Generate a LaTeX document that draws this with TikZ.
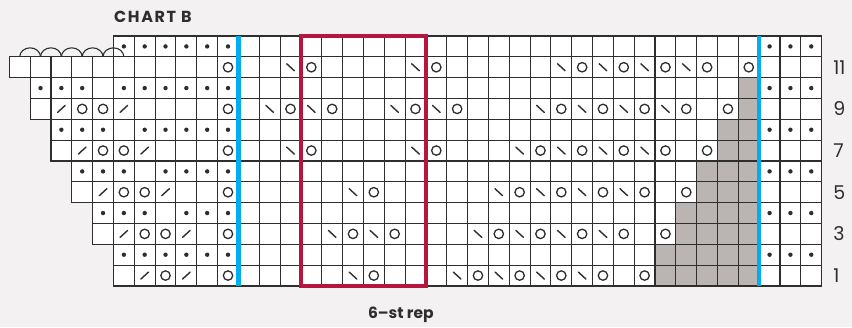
\documentclass[tikz,border=0pt]{standalone}
\usepackage{fontspec}
\setmainfont{Poppins}
\newfontfamily\titlefont[LetterSpace=10]{Poppins}
\definecolor{bg}{HTML}{F3F1F1}
\definecolor{ink}{HTML}{2E2E2E}
\definecolor{cyanline}{HTML}{00AEEF}
\definecolor{repred}{HTML}{B5163F}
\definecolor{chartgray}{HTML}{BAB5B2}
\tikzset{
  gridline/.style={draw=ink,line width=1.1pt},
  knitdot/.style={fill=ink},
  yo/.style={draw=ink,line width=1.3pt},
  decline/.style={draw=ink,line width=1.4pt,line cap=round},
  blueline/.style={draw=cyanline,line width=4.6pt},
  redbox/.style={draw=repred,line width=4.4pt},
  rownum/.style={anchor=west,inner sep=0pt,font=\fontsize{19}{19}\selectfont,text=ink},
}
\begin{document}
\begin{tikzpicture}[x=1pt,y=-1pt]
\fill[bg] (0,0) rectangle (852,327);
\useasboundingbox (0,0) rectangle (852,327);
\begin{scope}[shift={(9.3,36)},x=20.83pt,y=-20.83pt]
  % white cells
  \foreach \r/\s in {12/5,11/0,10/1,9/1,8/2,7/2,6/3,5/3,4/4,3/4,2/5,1/5}{
    \fill[white] (\s,12-\r) rectangle (39,13-\r);
  }
  % gray cells
  \foreach \r/\s in {1/31,2/31,3/32,4/32,5/33,6/33,7/34,8/34,9/35,10/35}{
    \fill[chartgray] (\s,12-\r) rectangle (36,13-\r);
  }
  % grid
  \foreach \r/\s in {12/5,11/0,10/1,9/1,8/2,7/2,6/3,5/3,4/4,3/4,2/5,1/5}{
    \foreach \c in {\s,...,38}{
      \draw[gridline] (\c,12-\r) rectangle (\c+1,13-\r);
    }
  }
  % cast-on arcs
  \foreach \k in {1,...,5}{
    \draw[ink,line width=1.1pt] (\k-0.5,1) arc[start angle=180,end angle=0,x radius=10.4pt,y radius=9pt];
  }
  % dots
  \foreach \r/\cs in {12/{5,6,7,8,9,10,36,37,38},
                      10/{1,2,3,5,6,7,8,9,10,36,37,38},
                      8/{2,3,4,6,7,8,9,10,36,37,38},
                      6/{3,4,5,7,8,9,10,36,37,38},
                      4/{4,5,6,8,9,10,36,37,38},
                      2/{5,6,7,8,9,10,36,37,38}}{
    \foreach \c in \cs{
      \fill[knitdot] (\c+0.5,12.5-\r) circle (2.2pt);
    }
  }
  % yarn overs
  \foreach \r/\cs in {11/{10,14,20,27,29,31,33,35},
                      9/{3,4,10,13,15,19,21,26,28,30,32,34},
                      7/{4,5,10,14,20,25,27,29,31,33},
                      5/{5,6,10,17,24,26,28,30,32},
                      3/{6,7,10,16,18,23,25,27,29,31},
                      1/{7,10,17,22,24,26,28,30}}{
    \foreach \c in \cs{
      \draw[yo] (\c+0.5,12.5-\r) circle (4.7pt);
    }
  }
  % k2tog (/)
  \foreach \r/\cs in {9/{2,5},7/{3,6},5/{4,7},3/{5,8},1/{6,8}}{
    \foreach \c in \cs{
      \draw[decline] ([shift={(-3.8pt,-3.5pt)}]\c+0.5,12.5-\r) -- ([shift={(3.8pt,3.5pt)}]\c+0.5,12.5-\r);
    }
  }
  % ssk (\)
  \foreach \r/\cs in {11/{13,19,26,28,30,32},
                      9/{12,14,18,20,25,27,29,31},
                      7/{13,19,24,26,28,30},
                      5/{16,23,25,27,29},
                      3/{15,17,22,24,26,28},
                      1/{16,21,23,25,27}}{
    \foreach \c in \cs{
      \draw[decline] ([shift={(-3.8pt,3.5pt)}]\c+0.5,12.5-\r) -- ([shift={(3.8pt,-3.5pt)}]\c+0.5,12.5-\r);
    }
  }
  % vertical blue lines
  \draw[blueline] (11,0) -- (11,12);
  \draw[blueline] (36,0) -- (36,12);
  % repeat box
  \draw[redbox] (14,0) rectangle (20,12);
  % row numbers
  \foreach \r in {1,3,5,7,9,11}{
    \node[rownum] (n\r) at (39.55,12.5-\r) {\r};
  }
\end{scope}
\node[anchor=base west,inner sep=0pt,font=\titlefont\bfseries\fontsize{16}{16}\selectfont,text=ink] (title) at (114,22) {CHART B};
\node[anchor=base,inner sep=0pt,font=\bfseries\fontsize{15.5}{15.5}\selectfont,text=ink] (rep) at (400.8,318.3) {6–st rep};
\end{tikzpicture}
\end{document}
